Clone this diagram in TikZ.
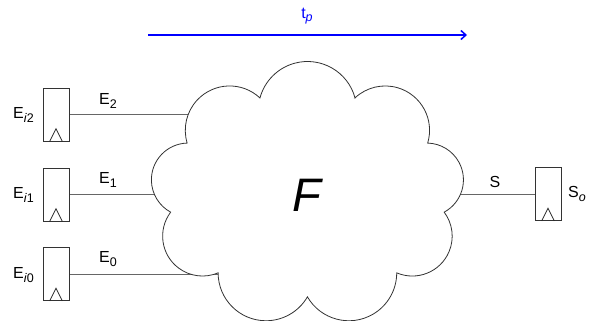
\documentclass[tikz,border=0pt]{standalone}
\usepackage{fontspec}
\setmainfont{Liberation Sans}
\usetikzlibrary{backgrounds,arrows.meta}
\newcommand\mysub[1]{\raisebox{-0.22em}{\fontsize{12.5}{14}\selectfont #1}}
\begin{document}
\begin{tikzpicture}[x=1pt,y=-1pt,
  every node/.style={font=\fontsize{16}{19}\selectfont},
  regbox/.style={draw=black!80,line width=0.8pt,minimum width=26pt,minimum height=53pt,inner sep=0pt,rectangle},
  wire/.style={draw=black!60,line width=1pt},
  clk/.style={draw=black!85,line width=0.8pt},
  cloudline/.style={draw=black!80,fill=white,line width=0.8pt,line join=miter},
  lbl/.style={inner sep=0pt}]
\useasboundingbox (0,0) rectangle (590,321);
% cloud puff geometry (junctions on an ellipse, each puff a 150 degree arc)
\foreach \k in {0,...,8}{
  \pgfmathsetmacro\aa{70+40*\k}
  \pgfmathsetmacro\ab{110+40*\k}
  \pgfmathsetmacro\dx{139*cos(\ab)-139*cos(\aa)}
  \pgfmathsetmacro\dy{102.6*sin(\ab)-102.6*sin(\aa)}
  \pgfmathsetmacro\cl{veclen(\dx,\dy)}
  \pgfmathsetmacro\rr{\cl/(2*sin(75))}
  \pgfmathsetmacro\ph{atan2(\dy,\dx)-165}
  \expandafter\xdef\csname cph\k\endcsname{\ph}
  \expandafter\xdef\csname crr\k\endcsname{\rr}
}
\begin{scope}[shift={(307.5,194.4)},y=1pt]
  \path[cloudline] ({139*cos(70)},{102.6*sin(70)})
    \foreach \k in {0,...,8}{ arc[start angle=\csname cph\k\endcsname, delta angle=150, radius=\csname crr\k\endcsname] } -- cycle;
\end{scope}
\node[lbl,font=\fontsize{47}{50}\selectfont\itshape] (F) at (307,195) {F};
% registers
\node[regbox] (r2) at (56,114.5) {};
\node[regbox] (r1) at (56,194.5) {};
\node[regbox] (r0) at (56,274) {};
\node[regbox] (ro) at (548,194) {};
\foreach \r in {r2,r1,r0,ro}{
  \draw[clk,line join=miter] ([xshift=-6.3pt]\r.south) -- ([yshift=12.7pt]\r.south) -- ([xshift=6.3pt]\r.south);
}
% wires behind cloud
\begin{scope}[on background layer]
  \draw[wire] (r2.east) -- (r2.east -| F.center);
  \draw[wire] (r1.east) -- (r1.east -| F.center);
  \draw[wire] (r0.east) -- (r0.east -| F.center);
  \draw[wire] (ro.west) -- (ro.west -| F.center);
\end{scope}
% labels
\node[lbl,anchor=east] (l2) at (34,115) {E\mysub{\textit{i}2}};
\node[lbl,anchor=east] (l1) at (34,195) {E\mysub{\textit{i}1}};
\node[lbl,anchor=east] (l0) at (34,275) {E\mysub{\textit{i}0}};
\node[lbl] (e2) at (108,101) {E\mysub{2}};
\node[lbl] (e1) at (108,180) {E\mysub{1}};
\node[lbl] (e0) at (108,259) {E\mysub{0}};
\node[lbl] (s) at (495,182) {S};
\node[lbl,anchor=west] (so) at (568,194) {S\mysub{\textit{o}}};
% tp arrow
\coordinate (a0) at (148,35);
\coordinate (a1) at (467,35);
\draw[blue,line width=1.5pt,-{Straight Barb[length=5pt,width=9pt]}] (a0) -- (a1);
\node[lbl,text=blue] (tp) at (307,16) {t\mysub{\textit{p}}};
\end{tikzpicture}
\end{document}
